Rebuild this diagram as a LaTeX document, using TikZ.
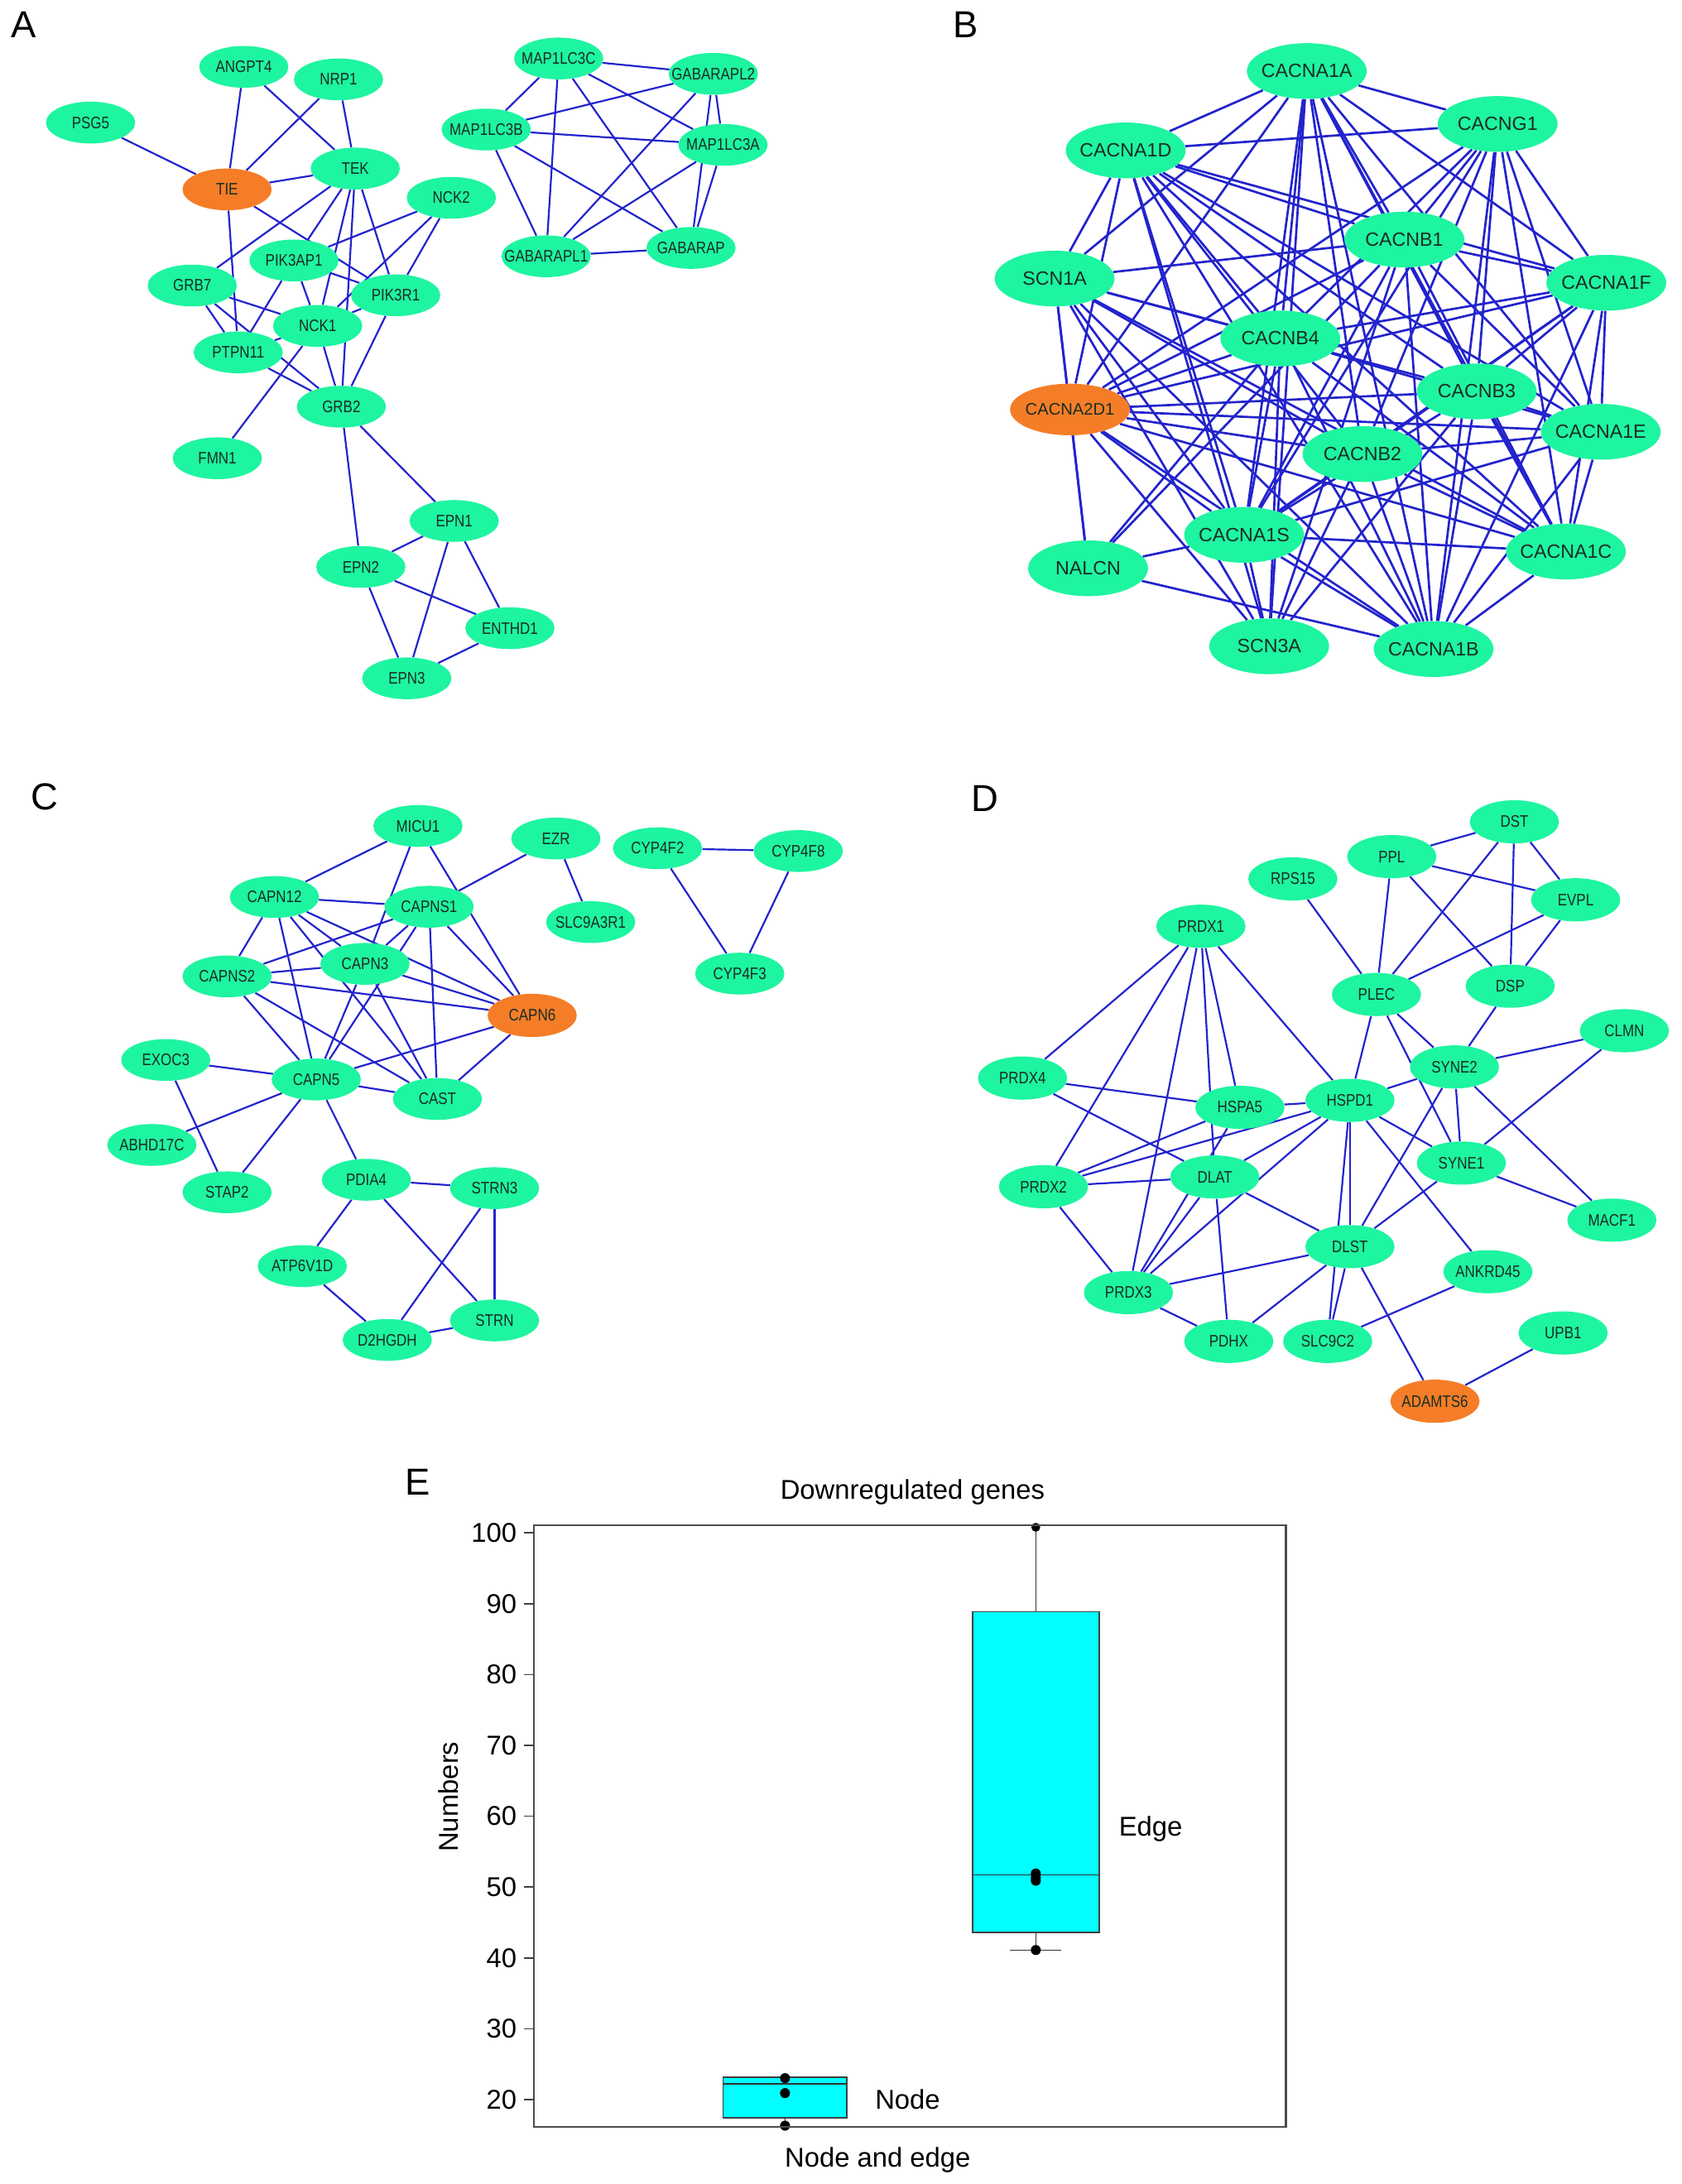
\documentclass[tikz,border=0pt]{standalone}
\usepackage{fontspec}
\setmainfont{Liberation Sans}
\newfontfamily\condf[FakeStretch=0.84]{Liberation Sans}
\usetikzlibrary{shapes.geometric}
\pgfdeclarelayer{back}
\pgfdeclarelayer{bg}
\pgfsetlayers{back,bg,main}
\definecolor{ngreen}{RGB}{30,245,160}
\definecolor{norange}{RGB}{245,125,40}
\definecolor{eblue}{RGB}{35,35,205}
\definecolor{bcyan}{RGB}{0,255,255}
\definecolor{ntext}{RGB}{25,45,35}
\newcommand{\zb}[1]{\makebox[0pt]{#1}}
\begin{document}
\begin{tikzpicture}[x=1pt,y=-1pt,
  gn/.style={ellipse, fill=ngreen, inner sep=0pt, text=ntext},
  on/.style={ellipse, fill=norange, inner sep=0pt, text=ntext},
  sm/.style={minimum width=64pt, minimum height=30pt, font=\condf\fontsize{12}{12}\selectfont},
  smd/.style={minimum width=64pt, minimum height=31pt, font=\condf\fontsize{12}{12}\selectfont},
  lg/.style={minimum width=86pt, minimum height=40pt, font=\fontsize{13.8}{13.8}\selectfont},
  ed/.style={draw=eblue, line width=1.3pt},
  edB/.style={draw=eblue, line width=1.6pt},
  plab/.style={font=\fontsize{27}{27}\selectfont, inner sep=0pt},
  axl/.style={font=\fontsize{19.5}{19.5}\selectfont, inner sep=0pt},
  boxs/.style={fill=bcyan, draw=black!75, line width=1pt},
  whis/.style={draw=black!80, line width=0.9pt}]
\begin{pgfonlayer}{back}
\fill[white] (0,0) rectangle (1207,1568);
\end{pgfonlayer}
\useasboundingbox (0,0) rectangle (1207,1568);

% panel labels
\node[plab] (labA) at (17,18) {A};
\node[plab] (labB) at (693,18) {B};
\node[plab] (labC) at (32,572) {C};
\node[plab] (labD) at (707,573) {D};
\node[plab] (labE) at (300,1064) {E};

% ---------------- Panel A ----------------
\node[gn,sm] (aANGPT4) at (175,48) {\zb{ANGPT4}};
\node[gn,sm] (aNRP1) at (243,57) {\zb{NRP1}};
\node[gn,sm] (aPSG5) at (65,88) {\zb{PSG5}};
\node[on,sm] (aTIE) at (163,136) {\zb{TIE}};
\node[gn,sm] (aTEK) at (255,121) {\zb{TEK}};
\node[gn,sm] (aNCK2) at (324,142) {\zb{NCK2}};
\node[gn,sm] (aPIK3AP1) at (211,187) {\zb{PIK3AP1}};
\node[gn,sm] (aGRB7) at (138,205) {\zb{GRB7}};
\node[gn,sm] (aPIK3R1) at (284,212) {\zb{PIK3R1}};
\node[gn,sm] (aNCK1) at (228,234) {\zb{NCK1}};
\node[gn,sm] (aPTPN11) at (171,253) {\zb{PTPN11}};
\node[gn,sm] (aGRB2) at (245,292) {\zb{GRB2}};
\node[gn,sm] (aFMN1) at (156,329) {\zb{FMN1}};
\node[gn,sm] (aEPN1) at (326,374) {\zb{EPN1}};
\node[gn,sm] (aEPN2) at (259,407) {\zb{EPN2}};
\node[gn,sm] (aENTHD1) at (366,451) {\zb{ENTHD1}};
\node[gn,sm] (aEPN3) at (292,487) {\zb{EPN3}};
\node[gn,sm] (aMAP1LC3C) at (401,42) {\zb{MAP1LC3C}};
\node[gn,sm] (aGABARAPL2) at (512,53) {\zb{GABARAPL2}};
\node[gn,sm] (aMAP1LC3B) at (349,93) {\zb{MAP1LC3B}};
\node[gn,sm] (aMAP1LC3A) at (519,104) {\zb{MAP1LC3A}};
\node[gn,sm] (aGABARAPL1) at (392,184) {\zb{GABARAPL1}};
\node[gn,sm] (aGABARAP) at (496,178) {\zb{GABARAP}};

% ---------------- Panel B ----------------
\node[gn,lg] (bA1A) at (938,51) {\zb{CACNA1A}};
\node[gn,lg] (bG1) at (1075,89) {\zb{CACNG1}};
\node[gn,lg] (bA1D) at (808,108) {\zb{CACNA1D}};
\node[gn,lg] (bB1) at (1008,172) {\zb{CACNB1}};
\node[gn,lg] (bS1A) at (757,200) {\zb{SCN1A}};
\node[gn,lg] (bA1F) at (1153,203) {\zb{CACNA1F}};
\node[gn,lg] (bB4) at (919,243) {\zb{CACNB4}};
\node[gn,lg] (bB3) at (1060,281) {\zb{CACNB3}};
\node[on,lg,minimum height=37pt,font=\fontsize{12}{12}\selectfont] (bA2D1) at (768,294) {\zb{CACNA2D1}};
\node[gn,lg] (bA1E) at (1149,310) {\zb{CACNA1E}};
\node[gn,lg] (bB2) at (978,326) {\zb{CACNB2}};
\node[gn,lg] (bA1S) at (893,384) {\zb{CACNA1S}};
\node[gn,lg] (bNAL) at (781,408) {\zb{NALCN}};
\node[gn,lg] (bA1C) at (1124,396) {\zb{CACNA1C}};
\node[gn,lg] (bS3A) at (911,464) {\zb{SCN3A}};
\node[gn,lg] (bA1B) at (1029,466) {\zb{CACNA1B}};

% ---------------- Panel C ----------------
\node[gn,sm] (cMICU1) at (300,593) {\zb{MICU1}};
\node[gn,sm] (cEZR) at (399,602) {\zb{EZR}};
\node[gn,sm] (cCYP2) at (472,609) {\zb{CYP4F2}};
\node[gn,sm] (cCYP8) at (573,611) {\zb{CYP4F8}};
\node[gn,sm] (cCAPN12) at (197,644) {\zb{CAPN12}};
\node[gn,sm] (cCAPNS1) at (308,651) {\zb{CAPNS1}};
\node[gn,sm] (cSLC) at (424,662) {\zb{SLC9A3R1}};
\node[gn,sm] (cCAPN3) at (262,692) {\zb{CAPN3}};
\node[gn,sm] (cCAPNS2) at (163,701) {\zb{CAPNS2}};
\node[gn,sm] (cCYP3) at (531,699) {\zb{CYP4F3}};
\node[on,smd] (cCAPN6) at (382,729) {\zb{CAPN6}};
\node[gn,sm] (cEXOC3) at (119,761) {\zb{EXOC3}};
\node[gn,sm] (cCAPN5) at (227,775) {\zb{CAPN5}};
\node[gn,sm] (cCAST) at (314,789) {\zb{CAST}};
\node[gn,sm] (cABHD) at (109,822) {\zb{ABHD17C}};
\node[gn,sm] (cSTAP2) at (163,856) {\zb{STAP2}};
\node[gn,sm] (cPDIA4) at (263,847) {\zb{PDIA4}};
\node[gn,sm] (cSTRN3) at (355,853) {\zb{STRN3}};
\node[gn,sm] (cATP) at (217,909) {\zb{ATP6V1D}};
\node[gn,sm] (cD2H) at (278,962) {\zb{D2HGDH}};
\node[gn,sm] (cSTRN) at (355,948) {\zb{STRN}};

% ---------------- Panel D ----------------
\node[gn,smd] (dDST) at (1087,590) {\zb{DST}};
\node[gn,smd] (dPPL) at (999,615) {\zb{PPL}};
\node[gn,smd] (dRPS15) at (928,631) {\zb{RPS15}};
\node[gn,smd] (dEVPL) at (1131,646) {\zb{EVPL}};
\node[gn,smd] (dPRDX1) at (862,665) {\zb{PRDX1}};
\node[gn,smd] (dPLEC) at (988,714) {\zb{PLEC}};
\node[gn,smd] (dDSP) at (1084,708) {\zb{DSP}};
\node[gn,smd] (dCLMN) at (1166,740) {\zb{CLMN}};
\node[gn,smd] (dSYNE2) at (1044,766) {\zb{SYNE2}};
\node[gn,smd] (dPRDX4) at (734,774) {\zb{PRDX4}};
\node[gn,smd] (dHSPA5) at (890,795) {\zb{HSPA5}};
\node[gn,smd] (dHSPD1) at (969,790) {\zb{HSPD1}};
\node[gn,smd] (dSYNE1) at (1049,835) {\zb{SYNE1}};
\node[gn,smd] (dPRDX2) at (749,852) {\zb{PRDX2}};
\node[gn,smd] (dDLAT) at (872,845) {\zb{DLAT}};
\node[gn,smd] (dMACF1) at (1157,876) {\zb{MACF1}};
\node[gn,smd] (dDLST) at (969,895) {\zb{DLST}};
\node[gn,smd] (dANKRD45) at (1068,913) {\zb{ANKRD45}};
\node[gn,smd] (dPRDX3) at (810,928) {\zb{PRDX3}};
\node[gn,smd] (dPDHX) at (882,963) {\zb{PDHX}};
\node[gn,smd] (dSLC9C2) at (953,963) {\zb{SLC9C2}};
\node[gn,smd] (dUPB1) at (1122,957) {\zb{UPB1}};
\node[on,smd] (dADAMTS6) at (1030,1006) {\zb{ADAMTS6}};

\begin{pgfonlayer}{bg}
% A edges
\foreach \u/\v in {aPSG5/aTIE, aANGPT4/aTIE, aANGPT4/aTEK, aNRP1/aTIE, aNRP1/aTEK, aTIE/aTEK, aTIE/aPTPN11, aTIE/aPIK3R1, aTEK/aGRB7, aTEK/aPIK3AP1, aTEK/aNCK1, aTEK/aGRB2, aTEK/aPIK3R1, aNCK2/aPIK3AP1, aNCK2/aNCK1, aNCK2/aPIK3R1, aPIK3AP1/aPTPN11, aPIK3AP1/aNCK1, aPIK3AP1/aPIK3R1, aGRB7/aPTPN11, aGRB7/aNCK1, aGRB7/aGRB2, aPTPN11/aNCK1, aPTPN11/aGRB2, aNCK1/aFMN1, aNCK1/aGRB2, aNCK1/aPIK3R1, aPIK3R1/aGRB2, aGRB2/aEPN1, aGRB2/aEPN2, aEPN1/aEPN2, aEPN1/aEPN3, aEPN1/aENTHD1, aEPN2/aENTHD1, aEPN2/aEPN3, aEPN3/aENTHD1,
 aMAP1LC3C/aGABARAPL2, aMAP1LC3C/aMAP1LC3B, aMAP1LC3C/aGABARAPL1, aMAP1LC3C/aMAP1LC3A, aMAP1LC3C/aGABARAP, aMAP1LC3B/aGABARAPL2, aMAP1LC3B/aMAP1LC3A, aMAP1LC3B/aGABARAPL1, aMAP1LC3B/aGABARAP, aGABARAPL2/aGABARAPL1, aGABARAPL2/aMAP1LC3A, aGABARAPL2/aGABARAP, aMAP1LC3A/aGABARAPL1, aMAP1LC3A/aGABARAP, aGABARAPL1/aGABARAP}
  \draw[ed] (\u) -- (\v);
% B edges
\foreach \s/\tl in {
 bA1A/{bG1,bA1D,bB1,bS1A,bA1F,bB4,bB3,bA2D1,bA1E,bB2,bA1S,bA1C,bS3A,bA1B},
 bG1/{bA1D,bB1,bA1F,bB4,bB3,bA2D1,bA1E,bB2,bA1S,bA1C,bA1B},
 bA1D/{bB1,bS1A,bA1F,bB4,bB3,bA2D1,bA1E,bB2,bA1S,bA1C,bS3A,bA1B},
 bB1/{bS1A,bA1F,bA2D1,bA1E,bA1S,bNAL,bA1C,bS3A,bA1B},
 bS1A/{bB4,bB3,bA2D1,bB2,bA1S,bNAL,bA1C,bS3A,bA1B},
 bA1F/{bB4,bB3,bA2D1,bA1E,bB2,bA1S,bA1C,bA1B},
 bB4/{bA2D1,bA1E,bA1S,bNAL,bA1C,bS3A,bA1B},
 bB3/{bA2D1,bA1E,bA1S,bA1C,bS3A,bA1B},
 bA2D1/{bA1E,bB2,bA1S,bNAL,bA1C,bS3A,bA1B},
 bA1E/{bB2,bA1S,bA1C,bA1B},
 bB2/{bA1S,bA1C,bS3A,bA1B},
 bA1S/{bNAL,bA1C,bS3A,bA1B},
 bNAL/{bA1B},
 bA1C/{bA1B}}
 {\foreach \t in \tl {\draw[edB] (\s) -- (\t);}}
% C edges
\foreach \u/\v in {cMICU1/cCAPN12, cMICU1/cCAPN3, cMICU1/cCAPN6, cEZR/cCAPNS1, cEZR/cSLC, cCAPN12/cCAPNS1, cCAPN12/cCAPNS2, cCAPN12/cCAPN5, cCAPN12/cCAPN3, cCAPN12/cCAST, cCAPN12/cCAPN6, cCAPNS1/cCAPNS2, cCAPNS1/cCAPN3, cCAPNS1/cCAPN5, cCAPNS1/cCAST, cCAPNS1/cCAPN6, cCAPNS2/cCAPN3, cCAPNS2/cCAPN6, cCAPNS2/cCAPN5, cCAPNS2/cCAST, cCAPN3/cCAPN6, cCAPN3/cCAPN5, cCAPN3/cCAST, cCAPN5/cCAPN6, cCAPN5/cCAST, cCAST/cCAPN6, cEXOC3/cCAPN5, cEXOC3/cSTAP2, cCAPN5/cABHD, cCAPN5/cSTAP2, cCAPN5/cPDIA4, cPDIA4/cSTRN3, cPDIA4/cATP, cPDIA4/cSTRN, cSTRN3/cSTRN, cSTRN3/cD2H, cATP/cD2H, cD2H/cSTRN, cCYP2/cCYP8, cCYP2/cCYP3, cCYP8/cCYP3}
  \draw[ed] (\u) -- (\v);
% D edges
\foreach \u/\v in {dDST/dPPL, dDST/dEVPL, dDST/dDSP, dDST/dPLEC, dPPL/dEVPL, dPPL/dPLEC, dPPL/dDSP, dEVPL/dPLEC, dEVPL/dDSP, dRPS15/dPLEC, dPRDX1/dPRDX4, dPRDX1/dPRDX2, dPRDX1/dPRDX3, dPRDX1/dDLAT, dPRDX1/dHSPA5, dPRDX1/dHSPD1, dPLEC/dHSPD1, dPLEC/dSYNE2, dPLEC/dSYNE1, dDSP/dSYNE2, dCLMN/dSYNE2, dCLMN/dSYNE1, dSYNE2/dHSPD1, dSYNE2/dSYNE1, dSYNE2/dDLST, dSYNE2/dMACF1, dPRDX4/dHSPA5, dPRDX4/dDLAT, dHSPA5/dHSPD1, dHSPA5/dPRDX2, dHSPA5/dPRDX3, dHSPD1/dPRDX2, dHSPD1/dDLAT, dHSPD1/dPRDX3, dHSPD1/dDLST, dHSPD1/dSLC9C2, dHSPD1/dSYNE1, dHSPD1/dANKRD45, dPRDX2/dDLAT, dPRDX2/dPRDX3, dDLAT/dPRDX3, dDLAT/dDLST, dDLAT/dPDHX, dDLST/dPRDX3, dDLST/dPDHX, dDLST/dSLC9C2, dDLST/dADAMTS6, dSYNE1/dDLST, dSYNE1/dMACF1, dANKRD45/dSLC9C2, dPRDX3/dPDHX, dUPB1/dADAMTS6}
  \draw[ed] (\u) -- (\v);
\end{pgfonlayer}

% ---------------- Panel E ----------------
\node[axl] (eTitle) at (655,1071) {Downregulated genes};
\node[axl] (eXlab) at (630,1551) {Node and edge};
\node[axl, rotate=90] (eYlab) at (322,1290) {Numbers};
\foreach \v/\yy in {100/1100.5, 90/1151.4, 80/1202.2, 70/1253.1, 60/1303.9, 50/1354.8, 40/1405.6, 30/1456.5, 20/1507.3}{
  \draw[black!75, line width=1pt] (376,\yy) -- (383,\yy);
  \node[axl, anchor=east] (tick\v) at (371,\yy) {\v};
}
% Node box
\draw[whis] (563.5,1520.5) -- (563.5,1526.6);
\draw[whis] (549,1526.6) -- (578,1526.6);
\draw[boxs] (519,1491.5) rectangle (608,1520.5);
\draw[whis] (519,1496.1) -- (608,1496.1);
\fill (563.5,1492) circle (3.6pt);
\fill (563.5,1502.7) circle (3.6pt);
\fill (563.5,1526.1) circle (3.6pt);
% Edge box
\draw[whis] (743.5,1157.2) -- (743.5,1095);
\draw[whis] (743.5,1387.3) -- (743.5,1400);
\draw[whis] (725,1400) -- (762,1400);
\draw[boxs] (698,1157.2) rectangle (789,1387.3);
\draw[whis] (698,1346.1) -- (789,1346.1);
\fill (743.5,1345.1) circle (3.6pt);
\fill (743.5,1348.1) circle (3.6pt);
\fill (743.5,1350.2) circle (3.6pt);
\fill (743.5,1400) circle (3.6pt);
\fill (743.5,1096.5) circle (3.2pt);
% frame
\draw[black!70, line width=1.3pt] (383,1095) rectangle (923,1527);
\node[axl, anchor=west] (eNode) at (628,1507) {Node};
\node[axl, anchor=west] (eEdge) at (803,1313) {Edge};
\end{tikzpicture}
\end{document}
